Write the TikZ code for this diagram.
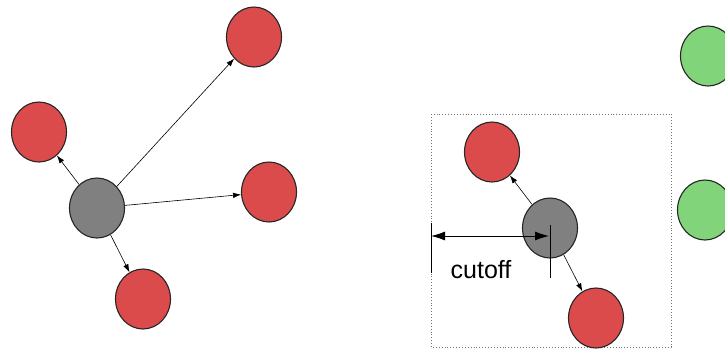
\documentclass[tikz,border=0pt]{standalone}
\usepackage{fontspec}
\setmainfont{Liberation Sans}
\usetikzlibrary{arrows.meta,shapes.geometric}
\definecolor{nodered}{RGB}{219,75,75}
\definecolor{nodegray}{RGB}{128,128,128}
\definecolor{nodegreen}{RGB}{130,212,122}
\tikzset{
  ball/.style={ellipse,draw=black!85,line width=1.1pt,inner sep=0pt,
    minimum width=55pt,minimum height=60pt},
  redball/.style={ball,fill=nodered},
  grayball/.style={ball,fill=nodegray},
  greenball/.style={ball,fill=nodegreen},
  link/.style={line width=0.6pt,-{Latex[length=8pt,width=5.5pt]}},
  tick/.style={line width=0.9pt},
  span/.style={line width=0.9pt,{Latex[length=14pt,width=9pt]}-{Latex[length=14pt,width=9pt]}}
}
\begin{document}
\begin{tikzpicture}[x=1pt,y=-1pt]
  \useasboundingbox (0,0) rectangle (725,349);

  % left: a particle and all of its neighbours
  \node[grayball] (c1) at (97,208) {};
  \node[redball] (a1) at (254,37) {};
  \node[redball] (a2) at (39,132) {};
  \node[redball] (a3) at (269,192) {};
  \node[redball] (a4) at (143,299) {};
  \draw[link] (c1) -- (a1);
  \draw[link] (c1) -- (a2);
  \draw[link] (c1) -- (a3);
  \draw[link] (c1) -- (a4);

  % right: only neighbours inside the cutoff box
  \draw[dotted,line width=0.9pt,black!55] (431,114) rectangle (671,347);
  \node[grayball] (c2) at (550,228) {};
  \node[redball] (b1) at (492,152) {};
  \node[redball] (b2) at (596,318) {};
  \node[greenball] (g1) at (708,56) {};
  \node[greenball] (g2) at (705,210) {};
  \draw[link] (c2) -- (b1);
  \draw[link] (c2) -- (b2);

  % cutoff distance
  \coordinate (l0) at (431,223);
  \coordinate (l1) at (431,273);
  \coordinate (r0) at (550,225);
  \coordinate (r1) at (550,278);
  \coordinate (s0) at (431,236);
  \coordinate (s1) at (549,236);
  \draw[tick] (l0) -- (l1);
  \draw[tick] (r0) -- (r1);
  \draw[span] (s0) -- (s1);
  \node[font=\fontsize{25}{28}\selectfont,anchor=base] (lbl) at (481,278) {cutoff};
\end{tikzpicture}
\end{document}
